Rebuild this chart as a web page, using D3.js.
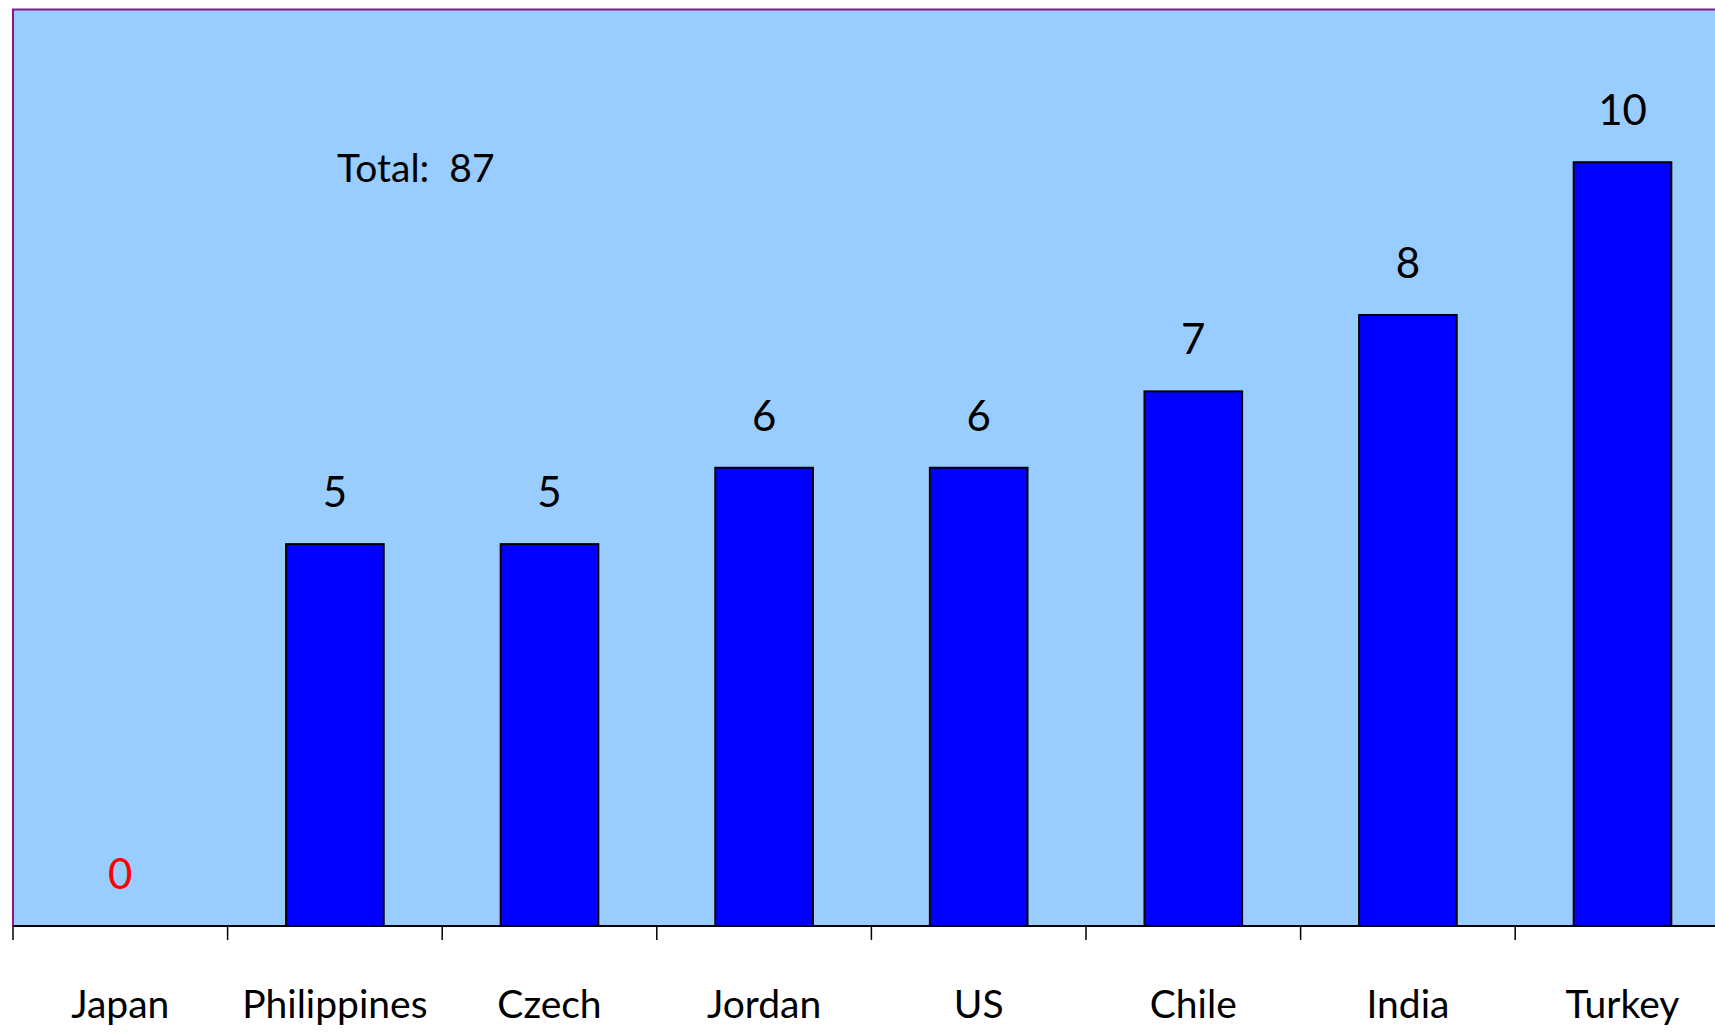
<!DOCTYPE html>
<html>
<head>
<meta charset="utf-8">
<script src="https://cdn.jsdelivr.net/npm/d3@7"></script>
<style>
    body { margin: 0; background: #fff; }
    svg { display: block; }
    text { font-family: "Comic Sans MS", "Lato", sans-serif; white-space: pre; }
</style>
</head>
<body>
<svg id="chart"></svg>
<script>
const categories = ['Japan', 'Philippines', 'Czech', 'Jordan', 'US', 'Chile', 'India', 'Turkey'];
const counts = [0, 5, 5, 6, 6, 7, 8, 10];
const totalLabel = 'Total:  87';
const yDomain = [0, 12];

const width = 1715, height = 1032;
const plotLeft = 13, plotTop = 9.5, baseline = 926;
const step = 214.6;

const svg = d3.select('#chart')
    .attr('width', width)
    .attr('height', height);

// plot area runs off the right edge of the picture
const x = d3.scaleBand()
    .domain(categories)
    .range([plotLeft, plotLeft + step * categories.length])
    .paddingInner(0.545)
    .paddingOuter(0.2725);

const y = d3.scaleLinear()
    .domain(yDomain)
    .range([baseline, plotTop]);

svg.append('rect')
    .attr('x', plotLeft)
    .attr('y', plotTop)
    .attr('width', width - plotLeft + 5)
    .attr('height', baseline - plotTop)
    .attr('fill', '#99ccff');

// purple frame, top and left
svg.append('path')
    .attr('d', `M${plotLeft},${baseline}V${plotTop}H${width + 5}`)
    .attr('fill', 'none')
    .attr('stroke', '#8b1a8b')
    .attr('stroke-width', 2);

svg.append('g')
    .selectAll('rect')
    .data(categories.map((c, i) => ({ c, v: counts[i] })).filter(d => d.v > 0))
    .join('rect')
    .attr('x', d => x(d.c))
    .attr('y', d => y(d.v))
    .attr('width', x.bandwidth())
    .attr('height', d => y(0) - y(d.v))
    .attr('fill', '#0000ff')
    .attr('stroke', '#000')
    .attr('stroke-width', 2);

svg.append('g')
    .selectAll('text')
    .data(categories.map((c, i) => ({ c, v: counts[i] })))
    .join('text')
    .attr('x', d => x(d.c) + x.bandwidth() / 2)
    .attr('y', d => y(d.v) - 37)
    .attr('text-anchor', 'middle')
    .attr('font-size', 42)
    .attr('fill', d => d.v === 0 ? '#ff0000' : '#000')
    .text(d => d.v);

// category axis, ticks sit on the band boundaries
const edges = d3.range(categories.length + 1).map(i => plotLeft + i * x.step());
const axis = svg.append('g');
axis.append('line')
    .attr('x1', plotLeft).attr('x2', width + 5)
    .attr('y1', baseline).attr('y2', baseline)
    .attr('stroke', '#000').attr('stroke-width', 2);
axis.selectAll('line.tick')
    .data(edges)
    .join('line')
    .attr('class', 'tick')
    .attr('x1', d => d).attr('x2', d => d)
    .attr('y1', baseline).attr('y2', baseline + 14)
    .attr('stroke', '#000').attr('stroke-width', 1.5);
axis.selectAll('text')
    .data(categories)
    .join('text')
    .attr('x', d => x(d) + x.bandwidth() / 2)
    .attr('y', 1018)
    .attr('text-anchor', 'middle')
    .attr('font-size', 39)
    .text(d => d);

svg.append('text')
    .attr('x', 337)
    .attr('y', 182)
    .attr('font-size', 39)
    .text(totalLabel);
</script>
</body>
</html>
